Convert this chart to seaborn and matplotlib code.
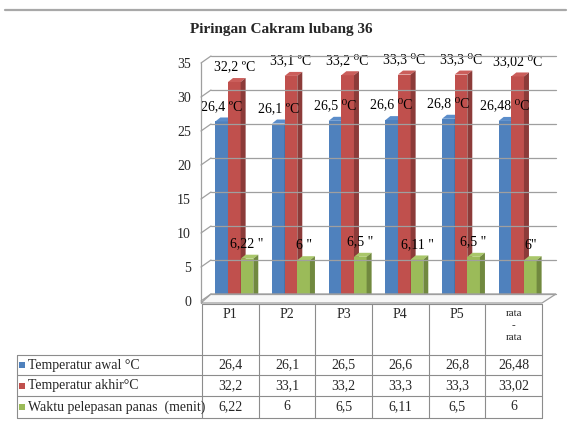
import matplotlib
matplotlib.use("Agg")
import matplotlib.pyplot as plt
import matplotlib.transforms as mtransforms
from matplotlib.patches import Polygon, Rectangle
from matplotlib.lines import Line2D
import seaborn as sns
import pandas as pd

# ---------------- data ----------------
categories = ["P1", "P2", "P3", "P4", "P5", "rata - rata"]
series_names = ["Temperatur awal °C", "Temperatur akhir°C", "Waktu pelepasan panas  (menit)"]
temp_awal = [26.4, 26.1, 26.5, 26.6, 26.8, 26.48]
temp_akhir = [32.2, 33.1, 33.2, 33.3, 33.3, 33.02]
waktu = [6.22, 6, 6.5, 6.11, 6.5, 6]
table_awal = ["26,4", "26,1", "26,5", "26,6", "26,8", "26,48"]
table_akhir = ["32,2", "33,1", "33,2", "33,3", "33,3", "33,02"]
table_waktu = ["6,22", "6", "6,5", "6,11", "6,5", "6"]
labels_awal = ["26,4 ºC", "26,1 ºC", "26,5 ⁰C", "26,6 ⁰C", "26,8 ⁰C", "26,48 ⁰C"]
labels_akhir = ["32,2 ºC", "33,1 ºC", "33,2 ⁰C", "33,3 ⁰C", "33,3 ⁰C", "33,02 ⁰C"]
labels_waktu = ['6,22 "', '6 "', '6,5 "', '6,11 "', '6,5 "', '6"']
yticks = [0, 5, 10, 15, 20, 25, 30, 35]
title = "Piringan Cakram lubang 36"

front_colors = ["#4F81BD", "#C0504D", "#9BBB59"]
side_colors = ["#385D8A", "#8C3B39", "#71893F"]
top_colors = ["#5B8DCA", "#CB5E5B", "#A9C76A"]

W, H = 570, 426
SERIF = ["Liberation Serif", "DejaVu Serif"]

sns.set_style("white")
plt.rcParams["font.family"] = SERIF

df = pd.DataFrame({
    "cat": categories * 3,
    "series": [series_names[0]] * 6 + [series_names[1]] * 6 + [series_names[2]] * 6,
    "value": temp_awal + temp_akhir + waktu,
})

fig = plt.figure(figsize=(W / 100, H / 100), dpi=100)
ID = mtransforms.IdentityTransform()


def P(x, y):
    return (x, H - y)


# axes: x 202..542 px, y data 0 at 301 px, 35 at 63 px
ax_left, ax_right = 202, 542
y0_px, y35_px = 301, 63
ax = fig.add_axes([ax_left / W, (H - y0_px) / H, (ax_right - ax_left) / W, (y0_px - y35_px) / H])
ax.set_facecolor("none")

sns.barplot(data=df, x="cat", y="value", hue="series", palette=front_colors,
            width=0.67, saturation=1, legend=False, ax=ax, errorbar=None)
ax.set_xlim(-0.5, 5.5)
ax.set_ylim(0, 35)
for s in ax.spines.values():
    s.set_visible(False)
ax.set_xticks([])
ax.set_xlabel("")
ax.set_ylabel("")
ax.set_yticks(yticks)
ax.set_yticklabels([str(t) for t in yticks], fontsize=10, fontfamily=SERIF)
ax.tick_params(axis="y", length=0, pad=8)

# ---- back wall / side wall / floor (pseudo 3D) ----
wall_c = "#9F9F9F"
dxw, dyw = 10, 7
for t in yticks:
    ypx = H - ax.transData.transform((0, t))[1]
    fig.add_artist(Line2D([ax_left - 1, ax_left - 1 + dxw], [H - ypx, H - (ypx - dyw)],
                          transform=ID, color=wall_c, lw=0.9))
    fig.add_artist(Line2D([ax_left - 1 + dxw, 556], [H - (ypx - dyw)] * 2,
                          transform=ID, color=wall_c, lw=0.9))
fig.add_artist(Line2D([ax_left - 1, ax_left - 1], [H - y35_px, H - 303], transform=ID, color=wall_c, lw=0.9))
# floor
floor = Polygon([P(201, 303), P(542, 303), P(556, 294), P(211, 294)], closed=True,
                transform=ID, facecolor="#F7F7F7", edgecolor=wall_c, lw=0.9, zorder=0.5)
fig.add_artist(floor)

# ---- bars with 3D faces ----
dx, dy = 5, 4
shift = 0.07
label_sets = [labels_awal, labels_akhir, labels_waktu]
patches = list(ax.patches)
for k, p in enumerate(patches):
    h = k // 6
    i = k % 6
    p.set_x(p.get_x() + shift)
    p.set_zorder(3 + h)
    p.set_edgecolor("none")
    x0, yb = p.get_x(), p.get_y()
    x1, yt = x0 + p.get_width(), yb + p.get_height()
    (X0, Y0) = ax.transData.transform((x0, yb))
    (X1, Y1) = ax.transData.transform((x1, yt))
    top = Polygon([(X0, Y1), (X1, Y1), (X1 + dx, Y1 + dy), (X0 + dx, Y1 + dy)],
                  closed=True, transform=ID, facecolor=top_colors[h], edgecolor="none",
                  zorder=3 + h + 0.1)
    side = Polygon([(X1, Y0), (X1, Y1), (X1 + dx, Y1 + dy), (X1 + dx, Y0 + dy)],
                   closed=True, transform=ID, facecolor=side_colors[h], edgecolor="none",
                   zorder=3 + h + 0.1)
    ax.add_artist(top)
    ax.add_artist(side)
    top.set_clip_on(False)
    side.set_clip_on(False)
    p.set_clip_on(False)
    ax.annotate(label_sets[h][i], ((x0 + x1) / 2, yt), xytext=(0, 10.8),
                textcoords="offset points", ha="center", va="center",
                fontsize=10, fontfamily=SERIF, color="black", zorder=10,
                annotation_clip=False)

# ---- title ----
fig.text(281 / W, 1 - 30 / H, title, ha="center", va="center", fontsize=11,
         fontweight="bold", fontfamily=SERIF)

# ---- top rule ----
fig.add_artist(Line2D([5, 566], [H - 10, H - 10], transform=ID, color="#A8A8A8", lw=1.6))

# ---- data table ----
tc = "#8C8C8C"
col_edges = [ax.transData.transform((i - 0.5, 0))[0] for i in range(7)]
tab_left = 17
hdr_top = 304
row_edges = [355, 375, 396, 418]


def hline(x0, x1, y):
    fig.add_artist(Line2D([x0, x1], [H - y, H - y], transform=ID, color=tc, lw=0.8))


def vline(x, ya, yb):
    fig.add_artist(Line2D([x, x], [H - ya, H - yb], transform=ID, color=tc, lw=0.8))


hline(col_edges[0], col_edges[-1], hdr_top)
for y in row_edges:
    hline(tab_left, col_edges[-1], y)
for x in col_edges:
    vline(x, hdr_top, row_edges[-1])
vline(tab_left, row_edges[0], row_edges[-1])

for i, c in enumerate(categories):
    cx = (col_edges[i] + col_edges[i + 1]) / 2
    if " " in c:
        txt = "\n".join(c.split(" "))
        fig.text(cx / W, 1 - 309 / H, txt, ha="center", va="top", fontsize=8,
                 linespacing=1.45, fontfamily=SERIF)
    else:
        fig.text(cx / W, 1 - 315 / H, c, ha="center", va="center", fontsize=10,
                 fontfamily=SERIF)

table_rows = [table_awal, table_akhir, table_waktu]
for r, (name, vals) in enumerate(zip(series_names, table_rows)):
    yc = (row_edges[r] + row_edges[r + 1]) / 2
    fig.add_artist(Rectangle((19, H - yc - 3), 6, 6, transform=ID,
                             facecolor=front_colors[r], edgecolor="none"))
    fig.text(28 / W, 1 - yc / H, name, ha="left", va="center", fontsize=10,
             fontfamily=SERIF)
    for i, v in enumerate(vals):
        cx = (col_edges[i] + col_edges[i + 1]) / 2
        fig.text(cx / W, 1 - yc / H, v, ha="center", va="center", fontsize=10,
                 fontfamily=SERIF)

fig.savefig("out.png", dpi=100)
